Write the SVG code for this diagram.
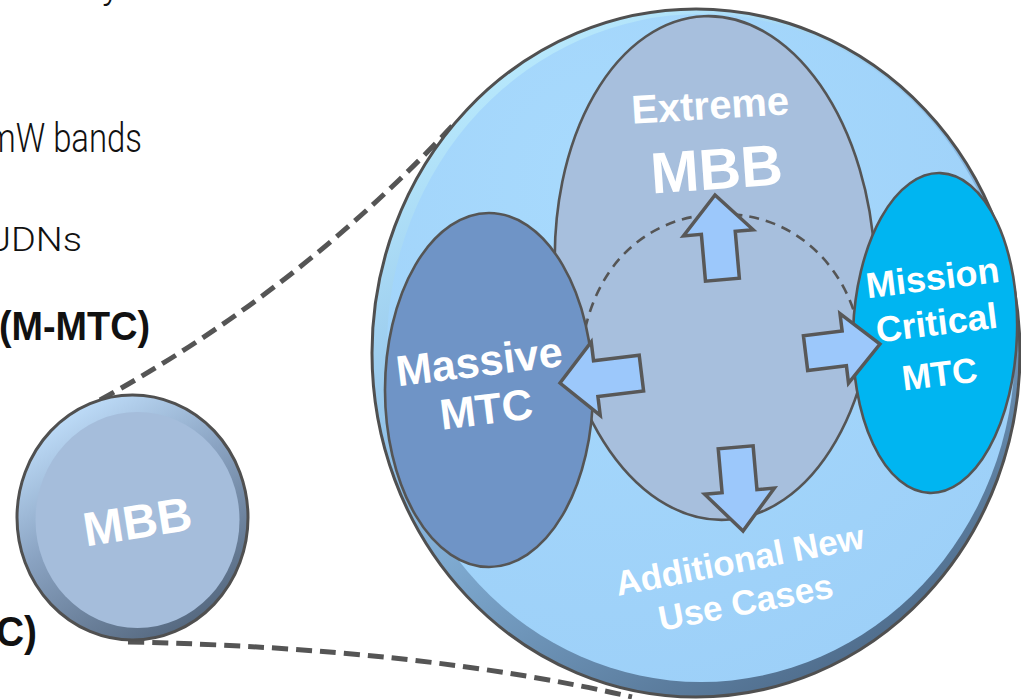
<svg xmlns="http://www.w3.org/2000/svg" width="1021" height="699" viewBox="0 0 1021 699">
  <defs>
    <linearGradient id="rimBig" x1="0.15" y1="0.05" x2="0.7" y2="1">
      <stop offset="0" stop-color="#bdeeff"/>
      <stop offset="0.45" stop-color="#8dbde6"/>
      <stop offset="1" stop-color="#4d6a89"/>
    </linearGradient>
    <radialGradient id="faceBig" cx="0.35" cy="0.25" r="0.8">
      <stop offset="0" stop-color="#a8dafd"/>
      <stop offset="1" stop-color="#9dd0f8"/>
    </radialGradient>
    <linearGradient id="rimSmall" x1="0.15" y1="0.05" x2="0.7" y2="1">
      <stop offset="0" stop-color="#c4e3ff"/>
      <stop offset="0.45" stop-color="#8aa3c2"/>
      <stop offset="1" stop-color="#53667d"/>
    </linearGradient>
    <style>
      .outline { stroke: #505050; stroke-width: 3; }
      .inner { stroke: #555555; stroke-width: 2.6; }
      .arrow { fill: #9cc8fb; stroke: #585858; stroke-width: 3.5; stroke-linejoin: miter; }
      .dash { fill: none; stroke: #555555; stroke-width: 5; stroke-dasharray: 16 8; }
      .lbl { font-family: "Liberation Sans", Arial, sans-serif; font-weight: bold; fill: #ffffff; text-anchor: middle; }
      .side { font-family: Roboto, "Liberation Sans", sans-serif; font-weight: 300; fill: #111111; }
      .sideb { font-family: "Liberation Sans", Arial, sans-serif; font-weight: bold; fill: #111111; }
    </style>
  </defs>

  <rect width="1021" height="699" fill="#ffffff"/>

  <!-- side text (cut off at left edge) -->
  <g id="side-text">
    <text class="side" x="102" y="-2" font-size="38">y</text>
    <text class="side" x="-13.5" y="152" font-size="40" textLength="155.5" lengthAdjust="spacingAndGlyphs">mW bands</text>
    <text class="side" x="-14" y="251" font-size="33" textLength="96" lengthAdjust="spacingAndGlyphs">UDNs</text>
    <text class="sideb" x="-1" y="340" font-size="41" textLength="151" lengthAdjust="spacingAndGlyphs">(M-MTC)</text>
    <text class="sideb" x="-4" y="646" font-size="42" textLength="41" lengthAdjust="spacingAndGlyphs">C)</text>
  </g>

  <!-- connectors -->
  <g id="connectors">
    <path class="dash" d="M100,400 Q300,290 455,123"/>
    <path class="dash" d="M128,642 Q420,648 632,697"/>
  </g>

  <!-- small MBB disk -->
  <g id="node-mbb-small">
    <ellipse cx="132.5" cy="517.5" rx="115.5" ry="122.5" fill="url(#rimSmall)" class="outline"/>
    <ellipse cx="137.5" cy="520" rx="102" ry="108" fill="#a5bddb"/>
    <text class="lbl" x="140" y="538" font-size="48" transform="rotate(-9 140 538)">MBB</text>
  </g>

  <!-- big disk -->
  <g id="node-big-disk">
    <ellipse cx="696" cy="353" rx="324" ry="344" fill="url(#rimBig)" class="outline"/>
    <ellipse cx="701" cy="348" rx="314" ry="334" fill="url(#faceBig)"/>
  </g>

  <g id="node-extreme-mbb">
    <ellipse cx="715" cy="268" rx="160" ry="252" transform="rotate(-2.5 715 268)" fill="#a7bfdd" class="inner"/>
  </g>

  <g id="dashed-arc">
    <path d="M582,345 C596,255 656,215 720,214 C792,213 840,262 856,318" fill="none" stroke="#555555" stroke-width="2.6" stroke-dasharray="10 7"/>
  </g>

  <g id="node-massive-mtc">
    <ellipse cx="489" cy="390" rx="104" ry="177" fill="#6f94c6" class="inner"/>
  </g>

  <g id="node-mission-critical">
    <ellipse cx="935" cy="333" rx="82" ry="160" transform="rotate(2 935 333)" fill="#00b5f1" class="inner"/>
  </g>

  <!-- block arrows -->
  <g id="arrows">
    <polygon class="arrow" transform="translate(715,195) rotate(-5)" points="0,0 35,38 17,38 17,85 -17,85 -17,38 -35,38"/>
    <polygon class="arrow" transform="translate(743,531) rotate(175)" points="0,0 35,40 17.5,40 17.5,84 -17.5,84 -17.5,40 -35,40"/>
    <polygon class="arrow" transform="translate(560,383) rotate(-97)" points="0,0 37,36 18,36 18,82 -18,82 -18,36 -37,36"/>
    <polygon class="arrow" transform="translate(880,344) rotate(83)" points="0,0 35,36 17.5,36 17.5,75 -17.5,75 -17.5,36 -35,36"/>
  </g>

  <!-- labels -->
  <g id="labels">
    <text class="lbl" x="711" y="119" font-size="40" transform="rotate(-3.5 711 119)">Extreme</text>
    <text class="lbl" x="718" y="189" font-size="58" transform="rotate(-4 718 189)">MBB</text>
    <text class="lbl" x="481" y="376" font-size="43" transform="rotate(-7 481 376)">Massive</text>
    <text class="lbl" x="488" y="424" font-size="43" transform="rotate(-7 488 424)">MTC</text>
    <text class="lbl" x="934" y="290" font-size="36" transform="rotate(-7 934 290)">Mission</text>
    <text class="lbl" x="938" y="335" font-size="36" transform="rotate(-7 938 335)">Critical</text>
    <text class="lbl" x="941" y="386" font-size="35" transform="rotate(-7 941 386)">MTC</text>
    <text class="lbl" x="742" y="572" font-size="35" transform="rotate(-11 742 572)">Additional New</text>
    <text class="lbl" x="748" y="614" font-size="35" transform="rotate(-11 748 614)">Use Cases</text>
  </g>
</svg>
